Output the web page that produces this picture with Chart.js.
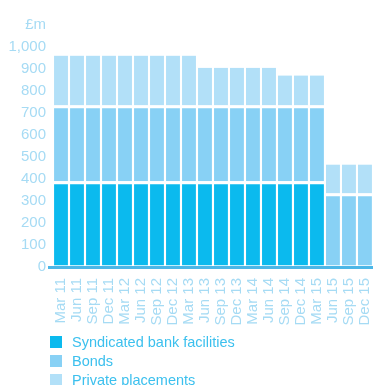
<!DOCTYPE html>
<html>
<head>
<meta charset="utf-8">
<script src="https://cdn.jsdelivr.net/npm/chart.js@4/dist/chart.umd.min.js"></script>
<style>
  html, body { margin: 0; padding: 0; background: #fff; }
  #wrap { position: relative; width: 386px; height: 385px; overflow: hidden; }
  #legend { position: absolute; left: 50px; top: 332px; font-family: "Liberation Sans", Arial, sans-serif; font-size: 14.5px; color: #3cc0ee; }
  .row { display: flex; align-items: center; height: 19px; }
  .box { width: 12px; height: 12px; margin-right: 10px; }
</style>
</head>
<body>
<div id="wrap">
  <canvas id="c" width="386" height="385"></canvas>
  <div id="legend"></div>
</div>
<script>
const categories = ['Mar 11','Jun 11','Sep 11','Dec 11','Mar 12','Jun 12','Sep 12','Dec 12','Mar 13','Jun 13','Sep 13','Dec 13','Mar 14','Jun 14','Sep 14','Dec 14','Mar 15','Jun 15','Sep 15','Dec 15'];
const syndicated = [390,390,390,390,390,390,390,390,390,390,390,390,390,390,390,390,390,0,0,0];
const bonds      = [345,345,345,345,345,345,345,345,345,345,345,345,345,345,345,345,345,335,335,335];
const privatePl  = [225,225,225,225,225,225,225,225,225,170,170,170,170,170,135,135,135,130,130,130];
const seriesNames = ['Syndicated bank facilities','Bonds','Private placements'];
const yTicks = [0,100,200,300,400,500,600,700,800,900,1000];
const unitLabel = '£m';

const colors = ['#0bbaee','#88d1f5','#b2e0f8'];
const tickColor = '#a6dbf4';
const font = 'Liberation Sans, Arial, sans-serif';

const unitPlugin = {
  id: 'unit',
  afterDraw(chart) {
    const ctx = chart.ctx;
    const y = chart.scales.y;
    ctx.save();
    ctx.fillStyle = tickColor;
    ctx.font = '15px ' + font;
    ctx.textAlign = 'right';
    ctx.textBaseline = 'middle';
    ctx.fillText(unitLabel, y.right - 7, 25);
    ctx.restore();
  }
};

const mk = (i, data, top) => ({
  label: seriesNames[i],
  data: data,
  backgroundColor: colors[i],
  borderColor: '#ffffff',
  borderWidth: {top: top, left: 0, right: 0, bottom: 0},
  borderSkipped: false,
  barPercentage: 0.87,
  categoryPercentage: 1.0
});

const chart = new Chart(document.getElementById('c'), {
  type: 'bar',
  data: {
    labels: categories,
    datasets: [mk(0, syndicated, 3), mk(1, bonds, 3), mk(2, privatePl, 0)]
  },
  options: {
    responsive: false,
    animation: false,
    layout: { padding: { top: 47, right: 1, left: 0, bottom: 0 } },
    plugins: { legend: { display: false }, tooltip: { enabled: false }, title: { display: false } },
    scales: {
      x: {
        stacked: true,
        grid: { display: false },
        border: { display: true, color: '#4cb7e7', width: 3 },
        ticks: {
          color: tickColor, font: { family: font, size: 15 },
          minRotation: 90, maxRotation: 90, autoSkip: false, padding: 3
        },
        afterFit(s) { s.height = 118; }
      },
      y: {
        stacked: true,
        min: 0, max: 1000,
        afterBuildTicks(s) { s.ticks = yTicks.map(v => ({ value: v })); },
        grid: {
          display: true, drawOnChartArea: false, drawTicks: true, tickLength: 5,
          color: (c) => (c.tick && c.tick.value === 0) ? '#4cb7e7' : 'rgba(0,0,0,0)',
          lineWidth: 3
        },
        border: { display: false },
        ticks: {
          color: tickColor, font: { family: font, size: 15 }, padding: 2,
          callback: (v) => v.toLocaleString('en-US')
        },
        afterFit(s) { s.width = 53; }
      }
    }
  },
  plugins: [unitPlugin]
});

const lg = document.getElementById('legend');
seriesNames.forEach((n, i) => {
  const r = document.createElement('div'); r.className = 'row';
  const b = document.createElement('div'); b.className = 'box'; b.style.background = colors[i];
  const t = document.createElement('span'); t.textContent = n;
  r.appendChild(b); r.appendChild(t); lg.appendChild(r);
});
</script>
</body>
</html>
